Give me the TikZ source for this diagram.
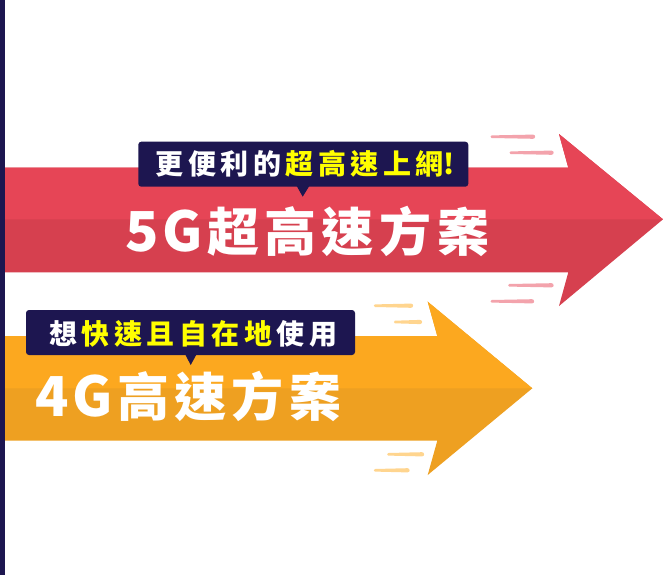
\documentclass[tikz,border=0pt]{standalone}
\usepackage{fontspec}
\newfontfamily\cjk{Noto Sans CJK TC}
\definecolor{navy}{HTML}{1D1650}
\definecolor{redtop}{HTML}{E64556}
\definecolor{redbot}{HTML}{D6404F}
\definecolor{orgtop}{HTML}{FCA81F}
\definecolor{orgbot}{HTML}{EEA021}
\definecolor{ylw}{HTML}{FFFF00}
\definecolor{pinkstreak}{HTML}{F3A3AC}
\definecolor{orgstreak}{HTML}{FFD58F}
\newlength\trk
\makeatletter
\def\spaced#1{\spaced@i#1\relax}
\def\spaced@i#1{\ifx#1\relax\else#1\kern\trk\expandafter\spaced@i\fi}
\makeatother
\newcommand\streak[4]{%
  \fill[#4] (#1,#3-1.3) -- (#2,#3-2.1) .. controls (#2+2.8,#3-2.1) and (#2+2.8,#3+2.1) .. (#2,#3+2.1) -- (#1,#3+1.3) .. controls (#1-1.6,#3+1.3) and (#1-1.6,#3-1.3) .. cycle;}
\newcommand\bigdig[1]{{\fontsize{55}{55}\selectfont\spaced{#1}}}
\tikzset{
  maintext/.style={font=\cjk\bfseries\fontsize{52}{52}\selectfont, text=white, inner sep=0pt},
  calltext/.style={font=\cjk\bfseries\fontsize{28}{28}\selectfont, text=white, inner sep=0pt},
  callbox/.style={fill=navy, rounded corners=3pt},
}
\begin{document}
\begin{tikzpicture}[x=1pt,y=-1pt]
\useasboundingbox (0,0) rectangle (663,575);
\fill[white] (0,0) rectangle (663,575);
% red arrow
\fill[redbot] (0,167.7) -- (568.3,167.7) -- (559,134) -- (663,219.3) -- (559,306) -- (568.3,272.3) -- (0,272.3) -- cycle;
\fill[redtop] (0,167.7) -- (568.3,167.7) -- (559,134) -- (663,219.3) -- (0,219.3) -- cycle;
\streak{491.7}{533}{136.7}{pinkstreak}
\streak{510.7}{551.5}{152.7}{pinkstreak}
\streak{509.3}{551.5}{285.3}{pinkstreak}
\streak{491.7}{532}{301.3}{pinkstreak}
% orange arrow
\fill[orgbot] (0,336) -- (437.3,336) -- (427.7,301.7) -- (532.3,388.3) -- (427.7,475) -- (437.3,440.7) -- (0,440.7) -- cycle;
\fill[orgtop] (0,336) -- (437.3,336) -- (427.7,301.7) -- (532.3,388.3) -- (0,388.3) -- cycle;
\streak{375}{411}{305.7}{orgstreak}
\streak{395}{420}{322}{orgstreak}
\streak{388.3}{422}{454.3}{orgstreak}
\streak{375}{407.5}{470.3}{orgstreak}
% left bar
\fill[navy] (0,0) rectangle (5,575);
% red callout
\fill[callbox] (138.3,141.7) rectangle (468.3,186.7);
\fill[navy] (296.7,186) -- (302.7,196.7) -- (309.3,186) -- cycle;
\node[calltext, anchor=west] (c5g) at (155.5,163.5) {\trk=4.5pt\spaced{更便利的}\textcolor{ylw}{\spaced{超高速上}網!}};
\node[maintext, anchor=base west] (t5g) at (125,251.5) {\trk=4pt\bigdig{5G}\trk=5.5pt\spaced{超高速方案}};
% orange callout
\fill[callbox] (26,310) rectangle (355,355);
\fill[navy] (185,354) -- (190.7,365) -- (196.7,354) -- cycle;
\node[calltext, anchor=west] (c4g) at (49,333.5) {\trk=4.5pt\spaced{想}\textcolor{ylw}{\spaced{快速且自在地}}\spaced{使用}};
\node[maintext, anchor=base west] (t4g) at (35,416.5) {\trk=4pt\bigdig{4G}\trk=5.5pt\spaced{高速方案}};
\end{tikzpicture}
\end{document}
